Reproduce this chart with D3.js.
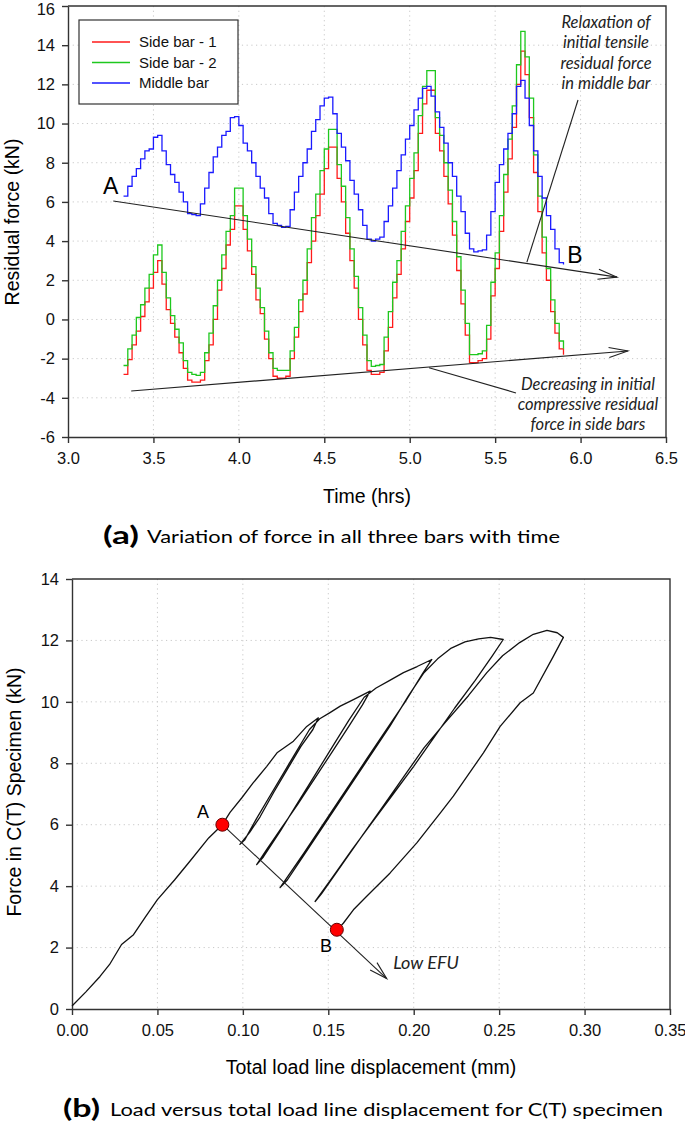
<!DOCTYPE html>
<html><head><meta charset="utf-8">
<script src="https://cdn.jsdelivr.net/npm/d3@7"></script>
<style>body{margin:0;background:#fff} svg{display:block}</style>
</head><body>
<svg id="c" width="685" height="1126"></svg>
<script>
// ---------- (a) data ----------
const hours = [
3.325,3.35,3.375,3.4,3.425,3.45,3.475,3.5,3.525,3.55,
3.575,3.6,3.625,3.65,3.675,3.7,3.725,3.75,3.775,3.8,
3.825,3.85,3.875,3.9,3.925,3.95,3.975,4.0,4.025,4.05,
4.075,4.1,4.125,4.15,4.175,4.2,4.225,4.25,4.275,4.3,
4.325,4.35,4.375,4.4,4.425,4.45,4.475,4.5,4.525,4.55,
4.575,4.6,4.625,4.65,4.675,4.7,4.725,4.75,4.775,4.8,
4.825,4.85,4.875,4.9,4.925,4.95,4.975,5.0,5.025,5.05,
5.075,5.1,5.125,5.15,5.175,5.2,5.225,5.25,5.275,5.3,
5.325,5.35,5.375,5.4,5.425,5.45,5.475,5.5,5.525,5.55,
5.575,5.6,5.625,5.65,5.675,5.7,5.725,5.75,5.775,5.8,
5.825,5.85,5.875,5.9];
const sideBar1 = [
-2.8,-2.05,-1.3,-0.6,0.15,0.9,1.6,2.4,3.0,1.8,
0.5,-0.2,-0.9,-1.7,-2.5,-3.1,-3.2,-3.2,-3.1,-2.1,
-1.3,0.0,1.5,2.6,3.8,4.6,5.8,5.8,4.6,3.5,
2.3,1.0,0.3,-1.0,-2.0,-2.9,-3.0,-3.0,-2.9,-2.0,
-0.9,0.4,1.3,2.9,4.0,5.3,6.4,7.7,8.8,8.8,
7.2,6.0,4.4,3.0,1.6,0.0,-1.3,-2.6,-2.8,-2.8,
-2.7,-1.6,-0.4,1.1,2.3,3.6,5.0,6.2,7.6,9.5,
11.0,11.7,11.7,9.5,8.6,7.3,5.9,4.3,2.5,0.8,
-0.8,-2.2,-2.2,-2.1,-2.0,-1.0,1.2,2.6,4.5,6.5,
8.2,9.8,12.0,13.7,12.5,10.3,7.5,5.5,3.4,2.0,
0.4,-0.7,-1.5,-1.8];
const sideBar2 = [
-2.35,-1.5,-0.8,0.1,0.75,1.6,2.3,3.3,3.8,2.4,
1.1,0.2,-0.5,-1.2,-2.1,-2.7,-2.8,-2.85,-2.7,-1.7,
-0.7,0.7,2.0,3.3,4.5,5.3,6.7,6.7,5.3,4.1,
2.7,1.6,0.6,-0.6,-1.7,-2.5,-2.6,-2.6,-2.6,-1.6,
-0.4,1.0,2.0,3.6,5.2,6.4,7.6,8.7,9.7,9.7,
7.9,6.8,5.2,3.6,2.2,0.6,-0.8,-2.1,-2.4,-2.35,
-2.3,-0.9,0.4,1.9,3.0,4.5,5.8,7.2,8.5,10.4,
11.9,12.7,12.7,10.3,9.4,8.0,6.6,5.0,3.2,1.5,
-0.2,-1.8,-1.8,-1.75,-1.6,-0.3,1.9,3.4,5.3,7.4,
9.2,10.9,13.0,14.7,13.4,11.3,8.4,6.3,4.2,2.6,
1.0,-0.2,-1.1,-1.5];
const middleBar = [
6.3,6.8,7.3,7.7,8.2,8.6,8.7,9.3,9.4,8.6,
7.9,7.4,7.0,6.5,6.0,5.4,5.35,5.3,5.9,6.7,
7.5,8.3,8.8,9.4,9.6,10.3,10.35,9.9,9.0,8.6,
8.0,7.3,6.7,6.2,5.4,4.9,4.8,4.7,4.75,5.6,
6.5,7.3,8.0,8.7,9.6,10.2,10.9,11.3,11.35,10.5,
9.5,8.8,8.1,7.1,6.4,5.6,4.8,4.1,4.0,4.1,
4.2,5.0,5.8,6.7,7.6,8.4,9.2,9.9,10.7,11.3,
11.8,11.9,11.4,10.6,9.8,9.0,8.0,7.3,6.3,5.5,
4.4,3.6,3.45,3.5,3.55,4.3,5.5,7.0,7.9,8.7,
9.5,10.5,11.9,12.2,11.3,9.9,8.6,7.3,6.2,5.3,
4.6,3.6,2.9,2.8];
const seriesNames = ["Side bar - 1","Side bar - 2","Middle bar"];
const seriesColors = ["#ff1a1a","#1ec81e","#1a1aff"];
const timeTicks = [3.0,3.5,4.0,4.5,5.0,5.5,6.0,6.5];
const residualTicks = [-6,-4,-2,0,2,4,6,8,10,12,14,16];

// ---------- (b) data ----------
const displacement = [
0.000,0.008,0.0164,0.022,0.029,0.036,0.043,0.050,0.060,0.069,0.080,0.088,
0.0925,0.0993,0.106,0.114,0.120,0.1296,0.1374,0.1442,
0.141,0.134,0.126,0.118,0.110,0.104,0.0983,
0.101,0.108,0.116,0.124,0.132,0.139,0.145,0.151,0.157,0.1647,0.1745,
0.170,0.162,0.152,0.142,0.132,0.122,0.114,0.1081,
0.112,0.122,0.132,0.142,0.152,0.162,0.171,0.178,0.186,0.194,0.202,0.2106,
0.205,0.195,0.184,0.172,0.160,0.148,0.136,0.1218,
0.126,0.138,0.150,0.162,0.174,0.186,0.197,0.206,0.214,0.222,0.230,0.238,0.245,0.2524,
0.246,0.236,0.224,0.212,0.200,0.188,0.176,0.164,0.152,0.1423,
0.146,0.158,0.170,0.182,0.194,0.206,0.218,0.232,0.2428,0.252,0.262,0.270,0.278,0.284,0.2876,
0.2818,0.270,0.2623,0.2506,0.2408,0.2232,0.2155,0.2018,0.1862,0.1725,0.1647,0.1589,0.157];
const ctForce = [
0.10,0.55,1.06,1.45,2.10,2.42,3.00,3.56,4.20,4.81,5.57,6.00,
6.40,6.87,7.36,7.90,8.34,8.72,9.20,9.48,
9.10,8.55,7.80,7.05,6.25,5.75,5.36,
5.50,6.20,6.95,7.70,8.45,9.10,9.45,9.65,9.86,10.07,10.35,
9.90,9.20,8.35,7.50,6.65,5.85,5.20,4.70,
4.95,5.80,6.70,7.60,8.50,9.40,10.15,10.45,10.70,10.95,11.15,11.38,
10.90,10.00,9.10,8.10,7.10,6.10,5.10,3.95,
4.20,5.20,6.20,7.20,8.20,9.20,10.20,10.95,11.40,11.75,11.95,12.05,12.10,12.03,
11.50,10.70,9.80,8.85,7.90,7.00,6.10,5.20,4.25,3.50,
3.75,4.70,5.65,6.60,7.55,8.50,9.30,10.20,10.95,11.50,11.93,12.20,12.33,12.25,12.10,
11.49,10.29,9.97,9.20,8.34,6.93,6.38,5.41,4.43,3.67,3.23,2.80,2.68];
const dispTicks = [0.00,0.05,0.10,0.15,0.20,0.25,0.30,0.35];
const forceTicks = [0,2,4,6,8,10,12,14];
const markedPoints = [{label:"A", d:0.088, f:6.0},{label:"B", d:0.155, f:2.58}];

const svg = d3.select("#c");
const AX = "Liberation Sans, Arial, sans-serif";
const CAP = "Lato, 'Open Sans', sans-serif";

function frame(g, x, y, xt, yt, xfmt) {
  const [x0,x1] = x.range(), [y0,y1] = y.range();
  g.append("g").selectAll("line").data(xt.slice(1,-1)).join("line")
    .attr("x1",d=>x(d)).attr("x2",d=>x(d)).attr("y1",y1).attr("y2",y0)
    .attr("stroke","#c8c8c8").attr("stroke-width",1).attr("stroke-dasharray","1.2,3.5");
  g.append("g").selectAll("line").data(yt.slice(1,-1)).join("line")
    .attr("x1",x0).attr("x2",x1).attr("y1",d=>y(d)).attr("y2",d=>y(d))
    .attr("stroke","#c8c8c8").attr("stroke-width",1).attr("stroke-dasharray","1.2,3.5");
  const ax = g.append("g").attr("transform",`translate(0,${y0})`)
    .call(d3.axisBottom(x).tickValues(xt).tickFormat(xfmt).tickSize(6).tickSizeOuter(0).tickPadding(9));
  const ay = g.append("g").attr("transform",`translate(${x0},0)`)
    .call(d3.axisLeft(y).tickValues(yt).tickFormat(d=>d).tickSize(6).tickSizeOuter(0).tickPadding(7));
  [ax,ay].forEach(a=>{
    a.select(".domain").attr("stroke","#333").attr("stroke-width",1.4);
    a.selectAll(".tick line").attr("stroke","#333").attr("stroke-width",1.4);
    a.selectAll("text").attr("font-family",AX).attr("font-size",16.5).attr("fill","#111");
  });
  g.append("path").attr("d",`M${x0},${y1}H${x1}V${y0}`).attr("fill","none")
    .attr("stroke","#333").attr("stroke-width",1.4);
}

function arrow(g, p0, p1, len, half) {
  g.append("line").attr("x1",p0[0]).attr("y1",p0[1]).attr("x2",p1[0]).attr("y2",p1[1])
    .attr("stroke","#222").attr("stroke-width",1.1);
  const ang = Math.atan2(p1[1]-p0[1], p1[0]-p0[0]);
  const bx = p1[0]-len*Math.cos(ang), by = p1[1]-len*Math.sin(ang);
  const nx = -Math.sin(ang)*half, ny = Math.cos(ang)*half;
  g.append("path").attr("d",`M${bx+nx},${by+ny}L${p1[0]},${p1[1]}L${bx-nx},${by-ny}`)
    .attr("fill","none").attr("stroke","#222").attr("stroke-width",1.1);
}

// ================= (a) =================
{
  const x = d3.scaleLinear().domain([3.0,6.5]).range([68,666]);
  const y = d3.scaleLinear().domain([-6,16]).range([437,6]);
  const g = svg.append("g");
  frame(g, x, y, timeTicks, residualTicks, d3.format(".1f"));
  g.selectAll(".tick text").filter(d=>d===16).attr("dy","0.5em");

  const series = [sideBar1, sideBar2, middleBar];
  const line = d3.line().curve(d3.curveStepAfter).x(d=>x(d[0])).y(d=>y(d[1]));
  series.forEach((vals,i)=>{
    const pts = hours.slice(0, vals.length).map((t,k)=>[t, vals[k]]);
    g.append("path").datum(pts).attr("d",line).attr("fill","none")
      .attr("stroke",seriesColors[i]).attr("stroke-width",1.3);
  });

  const lg = g.append("g");
  lg.append("rect").attr("x",79).attr("y",20).attr("width",159).attr("height",84)
    .attr("fill","#fff").attr("stroke","#333").attr("stroke-width",1.2);
  seriesNames.forEach((n,i)=>{
    const yy = 42 + i*20.5;
    lg.append("line").attr("x1",92).attr("x2",130).attr("y1",yy).attr("y2",yy)
      .attr("stroke",seriesColors[i]).attr("stroke-width",1.3);
    lg.append("text").attr("x",139).attr("y",yy).attr("dy","0.36em").text(n)
      .attr("font-family",AX).attr("font-size",15).attr("fill","#111");
  });

  const an = g.append("g");
  arrow(an, [x(3.265),y(6.05)], [x(6.213),y(2.16)], 19, 5);
  arrow(an, [x(3.37),y(-3.65)], [x(6.277),y(-1.61)], 19, 5);
  an.append("line").attr("x1",x(5.985)).attr("y1",y(11.2)).attr("x2",x(5.686)).attr("y2",y(2.93))
    .attr("stroke","#222").attr("stroke-width",1.1);
  an.append("line").attr("x1",x(5.113)).attr("y1",y(-2.47)).attr("x2",x(5.622)).attr("y2",y(-3.75))
    .attr("stroke","#222").attr("stroke-width",1.1);
  an.append("text").attr("x",x(3.25)).attr("y",y(6.81)).attr("dy","0.36em").attr("text-anchor","middle")
    .attr("font-family",AX).attr("font-size",23).text("A");
  an.append("text").attr("x",x(5.967)).attr("y",y(3.29)).attr("dy","0.36em").attr("text-anchor","middle")
    .attr("font-family",AX).attr("font-size",23).text("B");
  const relax = ["Relaxation of","initial tensile","residual force","in middle bar"];
  relax.forEach((s,i)=>an.append("text").attr("x",x(6.149)).attr("y",y(15.18)+i*20.4).attr("dy","0.36em")
    .attr("text-anchor","middle").attr("font-family",CAP).attr("font-style","italic").attr("font-size",16.5)
    .attr("fill","#222").text(s));
  const decr = ["Decreasing in initial","compressive residual","force in side bars"];
  decr.forEach((s,i)=>an.append("text").attr("x",x(6.043)).attr("y",y(-3.29)+i*20).attr("dy","0.36em")
    .attr("text-anchor","middle").attr("font-family",CAP).attr("font-style","italic").attr("font-size",16.5)
    .attr("fill","#222").text(s));

  g.append("text").attr("x",367).attr("y",503).attr("text-anchor","middle")
    .attr("font-family",AX).attr("font-size",19.5).text("Time (hrs)");
  g.append("text").attr("transform","translate(19,222) rotate(-90)").attr("text-anchor","middle")
    .attr("font-family",AX).attr("font-size",19.5).text("Residual force (kN)");
  g.append("text").attr("x",103).attr("y",544).attr("font-family",CAP).attr("font-weight","bold")
    .attr("font-size",24).attr("textLength",36).attr("lengthAdjust","spacingAndGlyphs").text("(a)");
  g.append("text").attr("x",147).attr("y",543).attr("font-family",CAP)
    .attr("font-size",18).attr("textLength",413).attr("lengthAdjust","spacingAndGlyphs")
    .text("Variation of force in all three bars with time");
}

// ================= (b) =================
{
  const x = d3.scaleLinear().domain([0,0.35]).range([72,670]);
  const y = d3.scaleLinear().domain([0,14]).range([1009,579]);
  const g = svg.append("g");
  frame(g, x, y, dispTicks, forceTicks, d3.format(".2f"));

  const pts = displacement.map((d,i)=>[d, ctForce[i]]);
  g.append("path").datum(pts)
    .attr("d", d3.line().x(d=>x(d[0])).y(d=>y(d[1])))
    .attr("fill","none").attr("stroke","#111").attr("stroke-width",1.3).attr("stroke-linejoin","round");

  const an = g.append("g");
  arrow(an, [x(0.088),y(6.0)], [x(0.1842),y(0.99)], 18, 5);
  an.selectAll("circle").data(markedPoints).join("circle")
    .attr("cx",d=>x(d.d)).attr("cy",d=>y(d.f)).attr("r",6.5)
    .attr("fill","#f00").attr("stroke","#600").attr("stroke-width",1);
  an.append("text").attr("x",x(0.0767)).attr("y",y(6.43)).attr("dy","0.36em").attr("text-anchor","middle")
    .attr("font-family",AX).attr("font-size",18).text("A");
  an.append("text").attr("x",x(0.1487)).attr("y",y(2.06)).attr("dy","0.36em").attr("text-anchor","middle")
    .attr("font-family",AX).attr("font-size",18).text("B");
  an.append("text").attr("x",x(0.188)).attr("y",y(1.51)).attr("dy","0.36em")
    .attr("font-family",CAP).attr("font-style","italic").attr("font-size",18).attr("fill","#222").text("Low EFU");

  g.append("text").attr("x",371).attr("y",1074).attr("text-anchor","middle")
    .attr("font-family",AX).attr("font-size",19.5).text("Total load line displacement (mm)");
  g.append("text").attr("transform","translate(21,792) rotate(-90)").attr("text-anchor","middle")
    .attr("font-family",AX).attr("font-size",19.5).text("Force in C(T) Specimen (kN)");
  g.append("text").attr("x",63).attr("y",1117).attr("font-family",CAP).attr("font-weight","bold")
    .attr("font-size",24).attr("textLength",37).attr("lengthAdjust","spacingAndGlyphs").text("(b)");
  g.append("text").attr("x",110).attr("y",1116).attr("font-family",CAP)
    .attr("font-size",18).attr("textLength",553).attr("lengthAdjust","spacingAndGlyphs")
    .text("Load versus total load line displacement for C(T) specimen");
}
</script>
</body></html>
